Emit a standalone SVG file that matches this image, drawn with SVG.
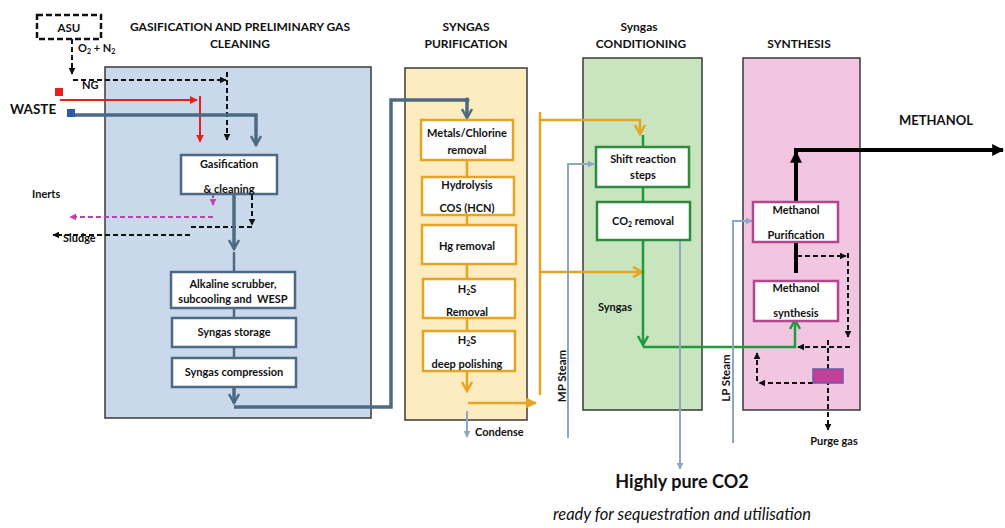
<svg xmlns="http://www.w3.org/2000/svg" width="1005" height="528" viewBox="0 0 1005 528">
<defs>
<style>
text{font-family:Lato,"Open Sans","Liberation Sans",sans-serif;font-weight:bold;fill:#111;}
.t{font-size:12px;text-anchor:middle;}
.b{font-size:11px;text-anchor:middle;}
.l{font-size:11px;}
.panel{stroke:#3a3a3a;stroke-width:1.5;}
.box{fill:#fff;stroke-width:2.5;}
.gb{stroke:#4d6a85;}
.yb{stroke:#e6a520;}
.grb{stroke:#2e8b3e;}
.pb{stroke:#b3478f;}
.steel{fill:none;stroke:#4d6a85;stroke-width:3.5;}
.steelthin{fill:none;stroke:#4d6a85;stroke-width:2.5;}
.orange{fill:none;stroke:#e6a520;stroke-width:2.5;}
.green{fill:none;stroke:#1f9a3e;stroke-width:2.5;}
.steam{fill:none;stroke:#8ea6c6;stroke-width:2;}
.dash{fill:none;stroke:#111;stroke-width:2;stroke-dasharray:5 3;}
.mdash{fill:none;stroke:#c040b0;stroke-width:2;stroke-dasharray:5 3;}
.red{fill:none;stroke:#e8201c;stroke-width:2;}
.thick{fill:none;stroke:#000;stroke-width:4;}
</style>
<marker id="chSteel" viewBox="0 0 12 12" refX="10" refY="6" markerWidth="12" markerHeight="12" markerUnits="userSpaceOnUse" orient="auto"><path d="M1,1 L10,6 L1,11" fill="none" stroke="#4d6a85" stroke-width="2.5"/></marker>
<marker id="chOrange" viewBox="0 0 12 12" refX="10" refY="6" markerWidth="12" markerHeight="12" markerUnits="userSpaceOnUse" orient="auto"><path d="M1,1 L10,6 L1,11" fill="none" stroke="#e6a520" stroke-width="2.5"/></marker>
<marker id="chGreen" viewBox="0 0 12 12" refX="10" refY="6" markerWidth="12" markerHeight="12" markerUnits="userSpaceOnUse" orient="auto"><path d="M1,1 L10,6 L1,11" fill="none" stroke="#1f9a3e" stroke-width="2.5"/></marker>
<marker id="triOrange" viewBox="0 0 10 10" refX="9" refY="5" markerWidth="11" markerHeight="11" markerUnits="userSpaceOnUse" orient="auto"><path d="M0,0 L10,5 L0,10 Z" fill="#e6a520"/></marker>
<marker id="triBlack" viewBox="0 0 10 10" refX="9" refY="5" markerWidth="7" markerHeight="7" markerUnits="userSpaceOnUse" orient="auto"><path d="M0,0 L10,5 L0,10 Z" fill="#111"/></marker>
<marker id="triBig" viewBox="0 0 10 10" refX="9" refY="5" markerWidth="12" markerHeight="12" markerUnits="userSpaceOnUse" orient="auto"><path d="M0,0 L10,5 L0,10 Z" fill="#000"/></marker>
<marker id="triRed" viewBox="0 0 10 10" refX="9" refY="5" markerWidth="8" markerHeight="8" markerUnits="userSpaceOnUse" orient="auto"><path d="M0,0 L10,5 L0,10 Z" fill="#e8201c"/></marker>
<marker id="triMag" viewBox="0 0 10 10" refX="9" refY="5" markerWidth="7" markerHeight="7" markerUnits="userSpaceOnUse" orient="auto"><path d="M0,0 L10,5 L0,10 Z" fill="#c040b0"/></marker>
<marker id="triSteam" viewBox="0 0 10 10" refX="9" refY="5" markerWidth="7" markerHeight="7" markerUnits="userSpaceOnUse" orient="auto"><path d="M0,0 L10,5 L0,10 Z" fill="#8ea6c6"/></marker>
</defs>
<rect width="1005" height="528" fill="#fff"/>

<g id="panels">
<rect id="panel-gasification" class="panel" x="105" y="67" width="266" height="351" fill="#c9d9eb"/>
<rect id="panel-purification" class="panel" x="405" y="68" width="122" height="352" fill="#fcecc0"/>
<rect id="panel-conditioning" class="panel" x="583" y="58" width="119" height="352" fill="#c8e5bf"/>
<rect id="panel-synthesis" class="panel" x="743" y="58" width="117" height="352" fill="#f2c6e0"/>
</g>

<g id="titles">
<text class="t" x="240" y="31">GASIFICATION AND PRELIMINARY GAS</text>
<text class="t" x="240" y="48">CLEANING</text>
<text class="t" x="466" y="31">SYNGAS</text>
<text class="t" x="466" y="48">PURIFICATION</text>
<text class="t" x="639" y="31">Syngas</text>
<text class="t" x="641" y="48">CONDITIONING</text>
<text class="t" x="799" y="48">SYNTHESIS</text>
<text class="t" x="936" y="125" style="font-size:13px">METHANOL</text>
</g>

<g id="connectors">
<path class="dash" d="M72,39 V74" marker-end="url(#triBlack)"/>
<path class="dash" d="M73,80 H226" marker-end="url(#triBlack)"/>
<path class="dash" d="M227,72 V140" marker-end="url(#triBlack)"/>
<path class="red" d="M60,100 H197" marker-end="url(#triRed)"/>
<path class="red" d="M200,96 V142" marker-end="url(#triRed)"/>
<path class="steel" d="M75,115 H256 V145" marker-end="url(#chSteel)"/>
<path class="mdash" d="M213,193 V205" marker-end="url(#triMag)"/>
<path class="mdash" d="M213,217 H70" marker-end="url(#triMag)"/>
<path class="dash" d="M252,195 V225" marker-end="url(#triBlack)"/>
<path class="dash" d="M252,227 H190"/>
<path class="dash" d="M190,235 H53" marker-end="url(#triBlack)"/>
<path class="steel" d="M234,195 V249" marker-end="url(#chSteel)"/>
<path class="steelthin" d="M234,252 V272"/>
<path class="steelthin" d="M234,308 V318"/>
<path class="steelthin" d="M234,347 V358"/>
<path class="steel" d="M234,387 V403" marker-end="url(#chSteel)"/>
<path class="steel" d="M234,407 H391 V100 H467 V118" marker-end="url(#chSteel)"/>
<circle cx="467" cy="100" r="2.5" fill="#4d6a85"/>
<path class="orange" d="M467,160 V177 M467,215 V225 M467,264 V279 M467,318 V331"/>
<path class="orange" d="M467,371 V391" marker-end="url(#chOrange)"/>
<path class="orange" d="M468,403 H536" marker-end="url(#triOrange)"/>
<path class="steam" d="M467,411 V437" marker-end="url(#triSteam)"/>
<path class="orange" d="M540,112 V395"/>
<path class="orange" d="M540,120 H640 V134" marker-end="url(#chOrange)"/>
<path class="orange" d="M540,272 H642" marker-end="url(#chOrange)"/>
<path class="steam" d="M568,438 V164 H594" marker-end="url(#triSteam)"/>
<path class="green" d="M643,135 V147 M643,187 V202"/>
<path class="green" d="M643,240 V345" marker-end="url(#chGreen)"/>
<path class="green" d="M643,347 H795 V320" marker-end="url(#chGreen)"/>
<path class="steam" d="M680,232 V469" marker-end="url(#triSteam)"/>
<path class="steam" d="M733,443 V221 H752" marker-end="url(#triSteam)"/>
<path class="thick" d="M796,202 V152" marker-end="url(#triBig)"/>
<path class="thick" d="M794,150 H1003" marker-end="url(#triBig)"/>
<path class="thick" d="M796,242 V273"/>
<path class="dash" d="M797,256 H846" marker-end="url(#triBlack)"/>
<path class="dash" d="M848,253 V337" marker-end="url(#triBlack)"/>
<path class="dash" d="M850,347 H798" marker-end="url(#triBlack)"/>
<path class="dash" d="M828,340 V430" marker-end="url(#triBlack)"/>
<path class="dash" d="M813,383 H759" marker-end="url(#triBlack)"/>
<path class="dash" d="M757,381 V353" marker-end="url(#triBlack)"/>
</g>

<g id="asu">
<rect x="37" y="15" width="64" height="24" fill="#fff" stroke="#111" stroke-width="2.5" stroke-dasharray="6 3"/>
<text class="b" x="69" y="32" style="font-size:11.5px">ASU</text>
</g>
<text id="o2n2" class="l" x="78" y="52">O<tspan dy="2" style="font-size:7px">2</tspan><tspan dy="-2"> + N</tspan><tspan dy="2" style="font-size:7px">2</tspan></text>
<text id="ng" class="l" x="82" y="89">NG</text>
<g id="waste">
<rect x="55" y="88" width="8" height="8" fill="#e8201c"/>
<rect x="67" y="109" width="8" height="8" fill="#2a5aa8"/>
<text x="10" y="114" style="font-size:13.5px">WASTE</text>
</g>
<text id="inerts" class="l" x="32" y="198">Inerts</text>
<text id="sludge" class="l" x="63" y="242">Sludge</text>

<g id="gasification">
<rect class="box gb" x="181" y="155" width="96" height="39"/>
<text class="b" x="229" y="168">Gasification</text>
<text class="b" x="229" y="193">&amp; cleaning</text>
</g>
<g id="alkaline">
<rect class="box gb" x="171" y="272" width="124" height="36"/>
<text class="b" x="233" y="288">Alkaline scrubber,</text>
<text class="b" x="233" y="303" xml:space="preserve">subcooling and  WESP</text>
</g>
<g id="storage">
<rect class="box gb" x="172" y="318" width="124" height="29"/>
<text class="b" x="234" y="336">Syngas storage</text>
</g>
<g id="compression">
<rect class="box gb" x="172" y="358" width="124" height="29"/>
<text class="b" x="234" y="376">Syngas compression</text>
</g>

<g id="metals">
<rect class="box yb" x="421" y="120" width="92" height="40"/>
<text class="b" x="467" y="137">Metals/Chlorine</text>
<text class="b" x="467" y="154">removal</text>
</g>
<g id="hydrolysis">
<rect class="box yb" x="422" y="177" width="92" height="38"/>
<text class="b" x="467" y="189">Hydrolysis</text>
<text class="b" x="467" y="212">COS (HCN)</text>
</g>
<g id="hg">
<rect class="box yb" x="422" y="225" width="94" height="39"/>
<text class="b" x="467" y="250">Hg removal</text>
</g>
<g id="h2s">
<rect class="box yb" x="423" y="279" width="92" height="39"/>
<text class="b" x="467" y="293">H<tspan dy="2" style="font-size:7px">2</tspan><tspan dy="-2">S</tspan></text>
<text class="b" x="467" y="316">Removal</text>
</g>
<g id="h2s-deep">
<rect class="box yb" x="423" y="331" width="92" height="40"/>
<text class="b" x="467" y="344">H<tspan dy="2" style="font-size:7px">2</tspan><tspan dy="-2">S</tspan></text>
<text class="b" x="467" y="368">deep polishing</text>
</g>
<text id="condense" class="l" x="475" y="436">Condense</text>
<text id="mp-steam" class="l" transform="translate(566,376) rotate(-90)" text-anchor="middle" style="font-size:11.5px">MP Steam</text>

<g id="shift">
<rect class="box grb" x="596" y="147" width="93" height="40"/>
<text class="b" x="643" y="163">Shift reaction</text>
<text class="b" x="643" y="179">steps</text>
</g>
<g id="co2-removal">
<rect class="box grb" x="597" y="202" width="93" height="38"/>
<text class="b" x="643" y="225">CO<tspan dy="2" style="font-size:7px">2</tspan><tspan dy="-2"> removal</tspan></text>
</g>
<text id="syngas" class="l" x="598" y="311">Syngas</text>
<text id="lp-steam" class="l" transform="translate(730,378) rotate(-90)" text-anchor="middle" style="font-size:11.5px">LP Steam</text>

<g id="meoh-purification">
<rect class="box pb" x="753" y="202" width="85" height="40"/>
<text class="b" x="796" y="214">Methanol</text>
<text class="b" x="796" y="239">Purification</text>
</g>
<g id="meoh-synthesis">
<rect class="box pb" x="754" y="281" width="84" height="40"/>
<text class="b" x="796" y="292">Methanol</text>
<text class="b" x="796" y="317">synthesis</text>
</g>
<g id="purge">
<rect x="813" y="369" width="30" height="14" fill="#c2409a" stroke="#6a5aa8" stroke-width="1.5"/>
<text class="b" x="834" y="445">Purge gas</text>
</g>

<g id="co2-output">
<text x="682" y="488" text-anchor="middle" style="font-size:18px">Highly pure CO2</text>
<text x="682" y="520" text-anchor="middle" style="font-size:16.5px;font-weight:normal;font-style:italic">ready for sequestration and utilisation</text>
</g>
</svg>
